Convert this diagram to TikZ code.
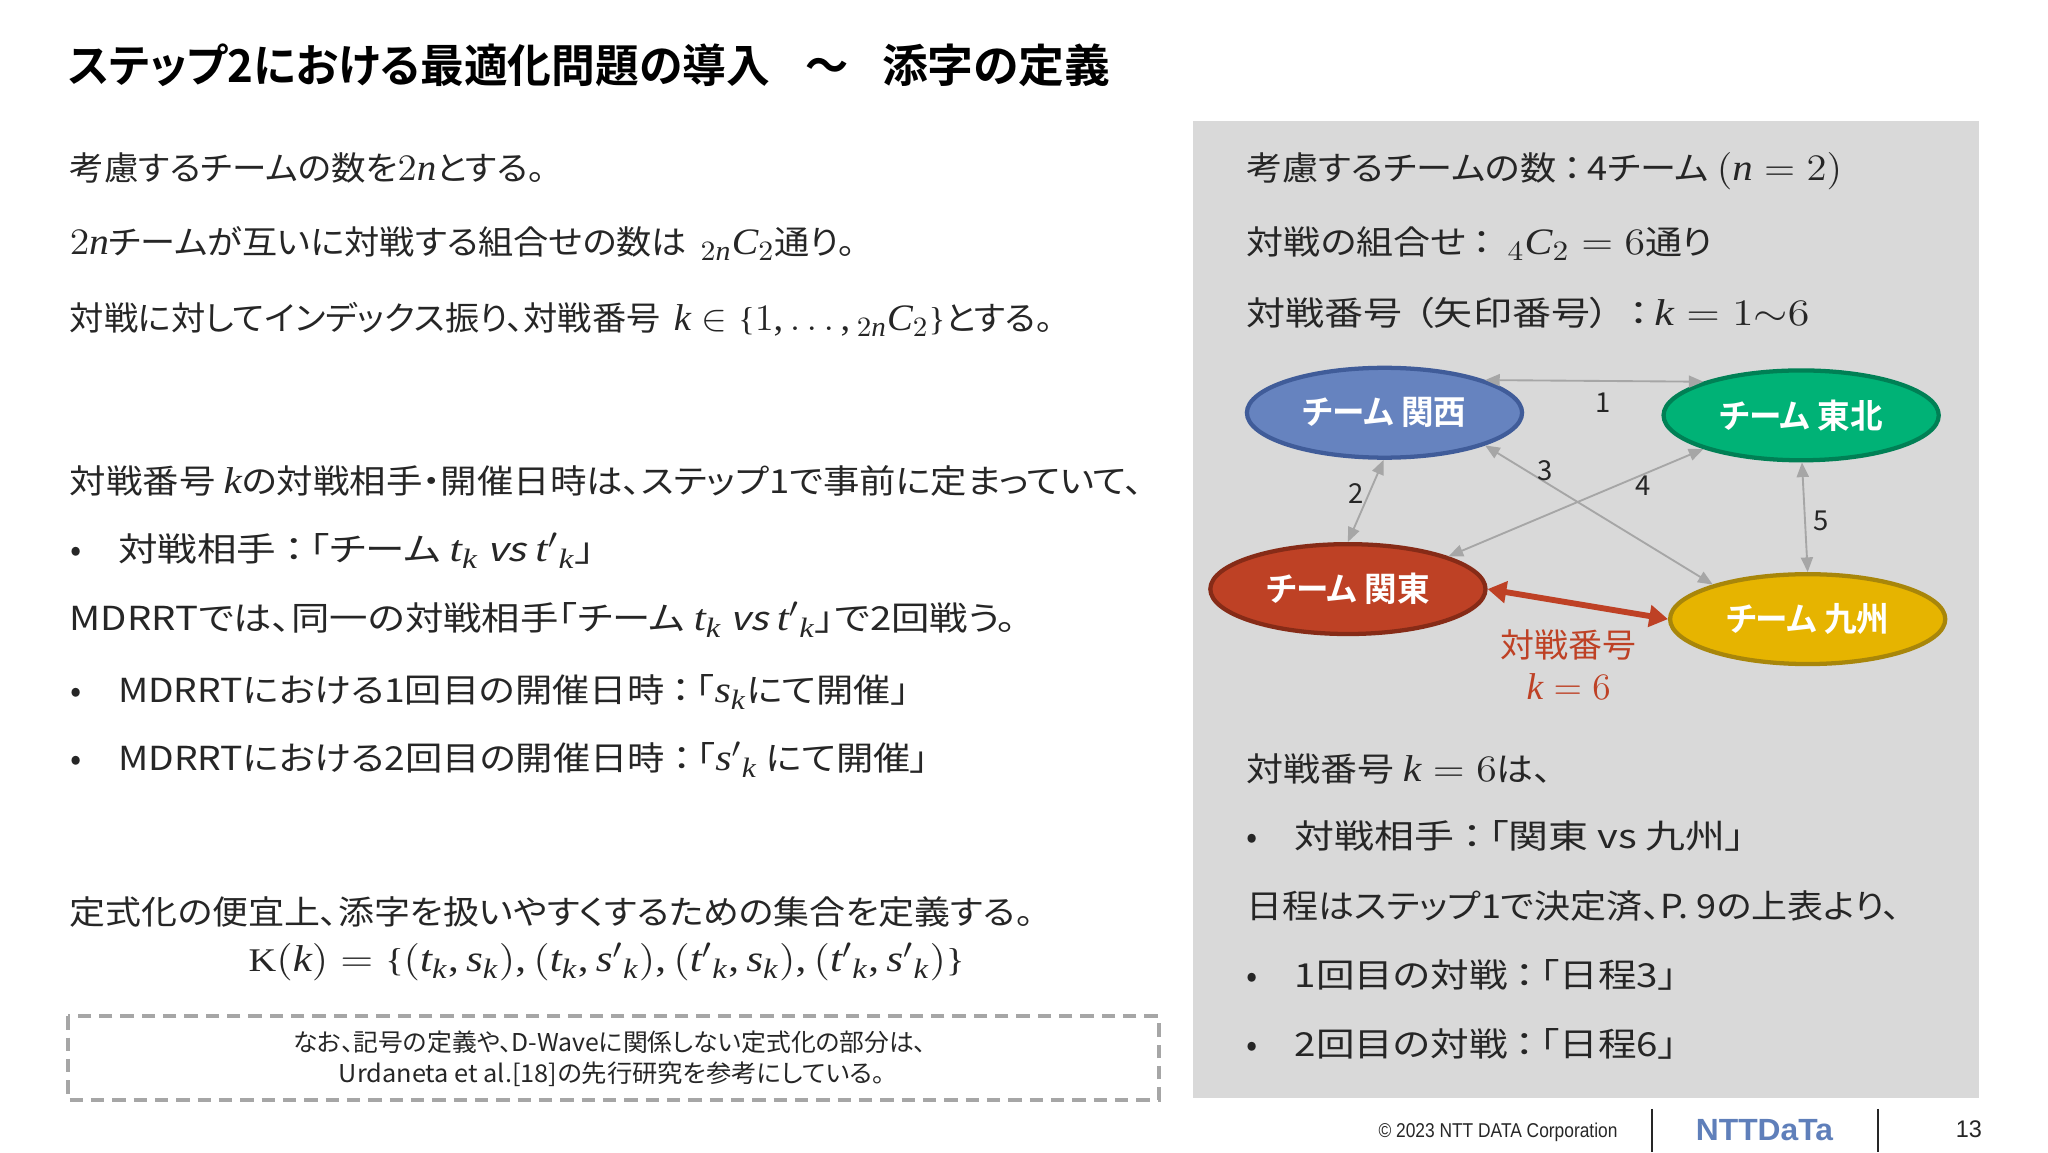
\RequirePackage{fix-cm}
\documentclass[tikz,border=0pt]{standalone}
\usepackage{amsmath}
\usepackage{fontspec}
\usepackage{graphicx}
\usetikzlibrary{arrows.meta,shapes.geometric}
\setmainfont[RawFeature=+palt,BoldFont={Noto Sans CJK JP Bold}]{Noto Sans CJK JP}
\newfontfamily\slantjp[FakeSlant=0.2]{Noto Sans CJK JP}
\newfontfamily\footfont{Liberation Sans}
\newfontfamily\lsfam[NFSSFamily=LibS]{Liberation Serif}
\DeclareSymbolFont{lsi}{TU}{LibS}{m}{it}
\DeclareSymbolFont{lsr}{TU}{LibS}{m}{n}
\DeclareMathSymbol{t}{\mathalpha}{lsi}{`t}
\DeclareMathSymbol{k}{\mathalpha}{lsi}{`k}
\DeclareMathSymbol{s}{\mathalpha}{lsi}{`s}
\DeclareMathSymbol{n}{\mathalpha}{lsi}{`n}
\DeclareMathSymbol{C}{\mathalpha}{lsi}{`C}
\DeclareMathSymbol{1}{\mathalpha}{lsr}{`1}
\DeclareMathSymbol{2}{\mathalpha}{lsr}{`2}
\DeclareMathSymbol{4}{\mathalpha}{lsr}{`4}
\DeclareMathSymbol{6}{\mathalpha}{lsr}{`6}
\DeclareMathSymbol{=}{\mathrel}{lsr}{`=}
\DeclareMathSymbol{,}{\mathpunct}{lsr}{`,}
\DeclareMathSymbol{(}{\mathopen}{lsr}{`(}
\DeclareMathSymbol{)}{\mathclose}{lsr}{`)}
\DeclareMathSizes{12.4}{14}{10.5}{8}
\newcommand\lbr{\mathopen{\text{\lsfam\{}}}
\newcommand\rbr{\mathclose{\text{\lsfam\}}}}
\definecolor{panelgray}{HTML}{D9D9D9}
\definecolor{arrowgray}{HTML}{A6A6A6}
\definecolor{bodyink}{HTML}{262626}
\definecolor{kred}{HTML}{BE4125}
\definecolor{logoblue}{HTML}{5F7FBA}
\newcommand\bodyfs{\fontsize{12.4}{15}\selectfont}
\newcommand\notefs{\fontsize{9.2}{11}\selectfont}
\newcommand\fb[2]{\sbox0{#2}\pgfmathsetmacro\fitr{#1*0.4898/\the\wd0}\scalebox{\fitr}[1]{\usebox0}}
\newcommand\vsword{{\slantjp vs}}
\newcommand\kc{\kern.2em：\kern.15em}
\tikzset{
  x=0.4898pt,y=-0.4898pt,
  line/.style={anchor=base west,inner sep=0pt,text=bodyink,font=\bodyfs},
  bul/.style={anchor=base,inner sep=0pt,text=bodyink,font=\bodyfs},
  team/.style={ellipse,minimum width=103.2pt,minimum height=33.7pt,inner sep=0pt,line width=1.6pt,text=white,font=\fontsize{12.6}{15}\selectfont\bfseries},
  match/.style={draw=arrowgray,line width=0.7pt,{Triangle[length=5.5pt,width=4.5pt]}-{Triangle[length=5.5pt,width=4.5pt]}},
  num/.style={inner sep=0pt,text=bodyink,font=\fontsize{10.3}{12}\selectfont},
  note/.style={anchor=base west,inner sep=0pt,text=bodyink,font=\notefs},
}
\begin{document}
\begin{tikzpicture}
\useasboundingbox (0,0) rectangle (1568,882);
\fill[white] (0,0) rectangle (1568,882);
\fill[panelgray] (913,93) rectangle (1515,841);
% title
\node[anchor=base west,inner sep=0pt,text=black,font=\fontsize{17}{20}\selectfont\bfseries] (title) at (52,63) {\fb{537}{ステップ2における最適化問題の導入}\kern13.2pt\fb{33}{～}\kern12.7pt\fb{175}{添字の定義}};
% left column
\node[line] (l1) at (53,138) {\fb{364}{考慮するチームの数を$2n$とする。}};
\node[line] (l2) at (53,195) {\fb{602}{$2n$チームが互いに対戦する組合せの数は \,${}_{2n}C_2$通り。}};
\node[line] (l3) at (53,253) {\fb{753}{対戦に対してインデックス振り、対戦番号 \,$k\in\lbr 1,\dots,{}_{2n}C_2\rbr$とする。}};
\node[line] (l4) at (53,378) {\fb{822}{対戦番号 $k$の対戦相手・開催日時は、ステップ1で事前に定まっていて、}};
\node[bul] (b1) at (58,430) {•};
\node[line] (l5) at (90,430) {\fb{365}{対戦相手\kc「チーム $t_k$ \vsword{} $t'{}_k$」}};
\node[line] (l6) at (53,483) {\fb{725}{MDRRTでは、同一の対戦相手「チーム $t_k$ \vsword{} $t'{}_k$」で2回戦う。}};
\node[bul] (b2) at (58,538) {•};
\node[line] (l7) at (90,538) {\fb{606}{MDRRTにおける1回目の開催日時\kc「$s_k$にて開催」}};
\node[bul] (b3) at (58,590) {•};
\node[line] (l8) at (90,590) {\fb{621}{MDRRTにおける2回目の開催日時\kc「$s'{}_k$ にて開催」}};
\node[line] (l9) at (53,708) {\fb{738}{定式化の便宜上、添字を扱いやすくするための集合を定義する。}};
\node[line] (l10) at (190,744) {\fb{548}{$\text{\lsfam K}(k)=\lbr(t_k,s_k),(t_k,s'{}_k),(t'{}_k,s_k),(t'{}_k,s'{}_k)\rbr$}};
\draw[arrowgray,line width=1.5pt,dash pattern=on 5pt off 3pt] (52,778) rectangle (887,842);
\node[note] (n1) at (224,805) {\fb{485}{なお、記号の定義や、D-Waveに関係しない定式化の部分は、}};
\node[note] (n2) at (259,829) {\fb{418}{Urdaneta et al.[18]の先行研究を参考にしている。}};
% right column
\node[line] (r1) at (954,138) {\fb{456}{考慮するチームの数\kc 4チーム $(n=2)$}};
\node[line] (r2) at (954,195) {\fb{357}{対戦の組合せ\kc \;${}_{4}C_2=6$通り}};
\node[line] (r3) at (954,249) {\fb{431}{対戦番号\kern.3em（矢印番号）\kern.3em\kc $k=1{\sim}6$}};
\node[team,fill={rgb,255:red,102;green,131;blue,191},draw={rgb,255:red,64;green,92;blue,153}] (kansai) at (1060,316) {\fb{125}{チーム 関西}};
\node[team,fill={rgb,255:red,0;green,178;blue,118},draw={rgb,255:red,0;green,128;blue,85}] (tohoku) at (1379,318) {\fb{125}{チーム 東北}};
\node[team,fill=kred,draw={rgb,255:red,134;green,43;blue,23}] (kanto) at (1032,451) {\fb{125}{チーム 関東}};
\node[team,fill={rgb,255:red,230;green,180;blue,0},draw={rgb,255:red,168;green,134;blue,10}] (kyushu) at (1384,474) {\fb{125}{チーム 九州}};
\draw[match] (kansai.18) -- (tohoku.161);
\draw[match] (kansai.-91) -- (kanto.90);
\draw[match] (kansai.-18) -- (kyushu.160);
\draw[match] (tohoku.199) -- (kanto.18);
\draw[match] (tohoku.-89) -- (kyushu.90);
\draw[draw=kred,line width=2.2pt,{Triangle[length=7pt,width=8pt]}-{Triangle[length=7pt,width=8pt]}] (kanto.east) -- (kyushu.west);
\node[num] (a1) at (1227,308) {1};
\node[num] (a2) at (1038,378) {2};
\node[num] (a3) at (1183,360) {3};
\node[num] (a4) at (1258,372) {4};
\node[num] (a5) at (1394,399) {5};
\node[inner sep=0pt,text=kred,font=\bodyfs] (rl1) at (1201,494) {\fb{104}{対戦番号}};
\node[inner sep=0pt,text=kred,font=\bodyfs] (rl2) at (1201,526) {$k=6$};
\node[line] (r4) at (954,598) {\fb{234}{対戦番号 $k=6$は、}};
\node[bul] (rb1) at (959,650) {•};
\node[line] (r5) at (991,650) {\fb{345}{対戦相手\kc「関東 vs 九州」}};
\node[line] (r6) at (954,703) {\fb{501}{日程はステップ1で決定済、P. 9の上表より、}};
\node[bul] (rb2) at (959,756) {•};
\node[line] (r7) at (991,756) {\fb{293}{1回目の対戦\kc「日程3」}};
\node[bul] (rb3) at (959,809) {•};
\node[line] (r8) at (991,809) {\fb{293}{2回目の対戦\kc「日程6」}};
% footer
\node[anchor=base west,inner sep=0pt,text=bodyink,font=\footfont\fontsize{7.5}{9}\selectfont] (copy) at (1055,871) {\fb{183}{© 2023 NTT DATA Corporation}};
\draw[bodyink,line width=0.8pt] (1265,849) -- (1265,882);
\draw[bodyink,line width=0.8pt] (1438,849) -- (1438,882);
\node[anchor=base west,inner sep=0pt,text=logoblue,font=\footfont\fontsize{11.5}{14}\selectfont\bfseries] (logo) at (1298,873) {\fb{105}{NTTDaTa}};
\node[anchor=base west,inner sep=0pt,text=bodyink,font=\footfont\fontsize{9}{11}\selectfont] (page) at (1497,871) {\fb{20}{13}};
\end{tikzpicture}
\end{document}
